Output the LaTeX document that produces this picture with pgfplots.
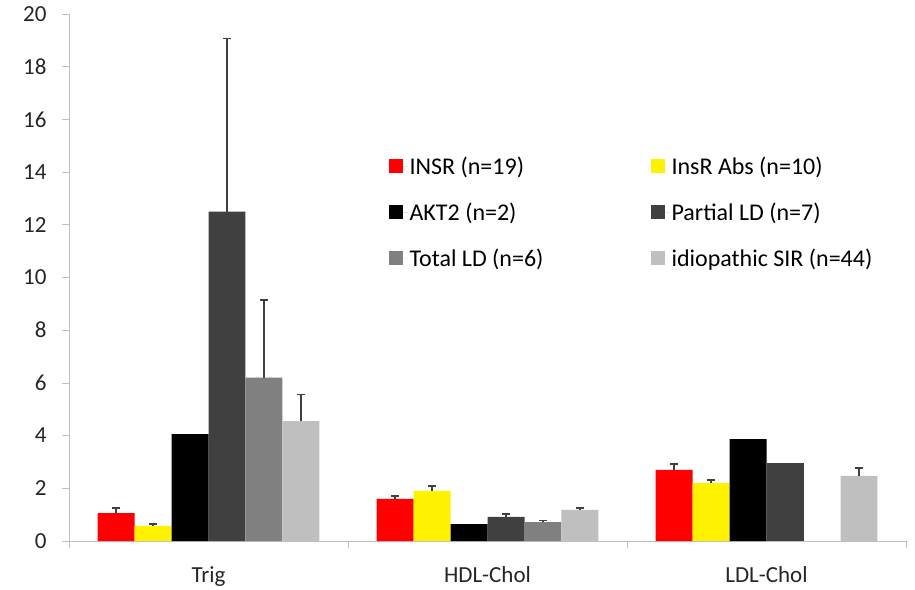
\documentclass[border=0pt]{standalone}
\usepackage{fontspec}
\setmainfont{Carlito}
\usepackage{pgfplots}
\pgfplotsset{compat=1.18}
\definecolor{dk}{HTML}{404040}
\definecolor{md}{HTML}{808080}
\definecolor{lt}{HTML}{BFBFBF}
\definecolor{axc}{HTML}{BFBFBF}
\begin{document}
\begin{tikzpicture}
\path[use as bounding box] (-69pt,-48pt) rectangle (846pt,541pt);
\begin{axis}[
  at={(0pt,0pt)}, anchor=south west,
  scale only axis, width=837pt, height=527pt,
  xmin=-0.5, xmax=2.5, ymin=0, ymax=20,
  ytick={0,2,...,20},
  xtick={0,1,2}, xticklabels={Trig,HDL-Chol,LDL-Chol},
  minor xtick={-0.5,0.5,1.5,2.5},
  axis x line*=bottom, axis y line*=left,
  axis line style={draw=axc, line width=0.8pt},
  tick style={draw=axc, line width=0.8pt},
  major x tick style={draw=none},
  tick align=outside,
  major tick length=7pt, minor tick length=7pt,
  /pgf/number format/assume math mode=true,
  ticklabel style={font=\fontsize{23}{27}\selectfont, text=black!85},
  yticklabel style={xshift=-12pt},
  xticklabel style={yshift=-15pt},
  ybar, bar shift=0pt, bar width=0.1326,
  legend columns=2,
  legend cell align=left,
  legend style={at={(0.378,0.737)}, anchor=north west, draw=none, fill=none,
    font=\fontsize{24}{28}\selectfont, row sep=23pt,
    /tikz/every even column/.append style={column sep=105pt}},
  legend image code/.code={\fill[#1,draw=none] (0pt,-7pt) rectangle (14pt,7pt);\path (0pt,0pt) -- (19pt,0pt);},
  every axis plot/.append style={draw=none},
  error bars/error bar style={line width=1.4pt, draw=dk},
  error bars/error mark options={rotate=90, mark size=4pt, line width=1.4pt, draw=dk},
]
\addplot[fill=red, error bars/.cd, y dir=plus, y explicit]
  table[x expr=\thisrow{x}-0.3315, y=y, y error=e] {
x y e
0 1.06 0.19
1 1.60 0.11
2 2.70 0.22
};
\addlegendentry{INSR (n=19)}
\addplot[fill=yellow, error bars/.cd, y dir=plus, y explicit]
  table[x expr=\thisrow{x}-0.1989, y=y, y error=e] {
x y e
0 0.57 0.08
1 1.90 0.19
2 2.20 0.11
};
\addlegendentry{InsR Abs (n=10)}
\addplot[fill=black]
  table[x expr=\thisrow{x}-0.0663, y=y] {
x y
0 4.06
1 0.64
2 3.87
};
\addlegendentry{AKT2 (n=2)}
\addplot[fill=dk, error bars/.cd, y dir=plus, y explicit]
  table[x expr=\thisrow{x}+0.0663, y=y, y error=e] {
x y e
0 12.50 6.58
1 0.92 0.11
};
\addlegendentry{Partial LD (n=7)}
\addplot[fill=md, error bars/.cd, y dir=plus, y explicit]
  table[x expr=\thisrow{x}+0.1989, y=y, y error=e] {
x y e
0 6.20 2.95
1 0.72 0.05
};
\addlegendentry{Total LD (n=6)}
\addplot[fill=lt, error bars/.cd, y dir=plus, y explicit]
  table[x expr=\thisrow{x}+0.3315, y=y, y error=e] {
x y e
0 4.55 1.00
1 1.18 0.07
2 2.47 0.30
};
\addlegendentry{idiopathic SIR (n=44)}
\addplot[fill=dk, forget plot]
  table[x expr=\thisrow{x}+0.0663, y=y] {
x y
2 2.96
};
\end{axis}
\end{tikzpicture}
\end{document}
